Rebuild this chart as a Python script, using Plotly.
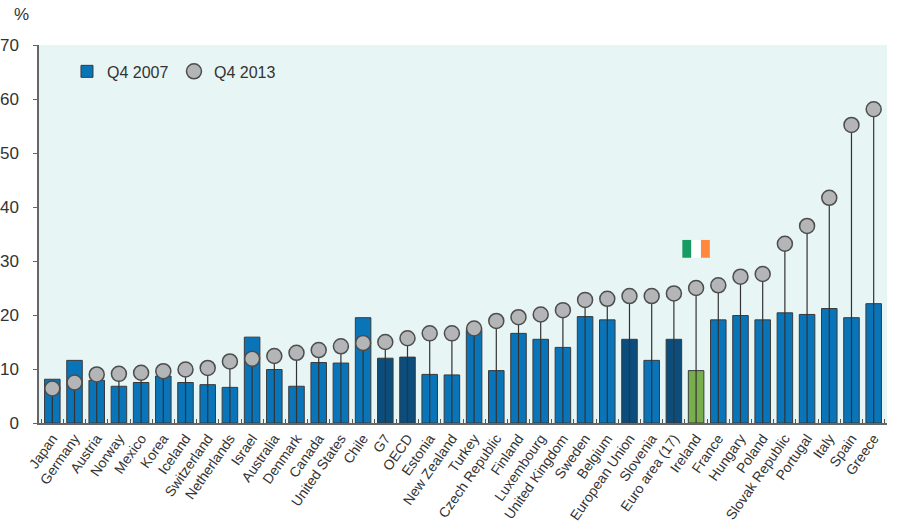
import plotly.graph_objects as go

# Long-term unemployment share, Q4 2007 vs Q4 2013 (%)
countries = ['Japan', 'Germany', 'Austria', 'Norway', 'Mexico', 'Korea', 'Iceland',
             'Switzerland', 'Netherlands', 'Israel', 'Australia', 'Denmark', 'Canada',
             'United States', 'Chile', 'G7', 'OECD', 'Estonia', 'New Zealand', 'Turkey',
             'Czech Republic', 'Finland', 'Luxembourg', 'United Kingdom', 'Sweden',
             'Belgium', 'European Union', 'Slovenia', 'Euro area (17)', 'Ireland',
             'France', 'Hungary', 'Poland', 'Slovak Republic', 'Portugal', 'Italy',
             'Spain', 'Greece']
q4_2007 = [8.1, 11.6, 7.9, 6.8, 7.5, 8.7, 7.5, 7.1, 6.6, 15.9, 9.9, 6.8, 11.2, 11.1,
           19.5, 12.0, 12.2, 9.0, 8.9, 17.3, 9.7, 16.6, 15.5, 14.0, 19.7, 19.1, 15.5,
           11.6, 15.5, 9.7, 19.1, 19.9, 19.1, 20.4, 20.1, 21.2, 19.5, 22.1]
q4_2013 = [6.4, 7.5, 9.0, 9.1, 9.3, 9.6, 9.9, 10.2, 11.4, 11.9, 12.4, 13.0, 13.5, 14.2,
           14.8, 15.0, 15.7, 16.6, 16.6, 17.5, 18.9, 19.6, 20.1, 20.9, 22.8, 23.0, 23.5,
           23.5, 24.0, 25.0, 25.5, 27.1, 27.6, 33.2, 36.5, 41.7, 55.2, 58.1]
aggregates = ['G7', 'OECD', 'European Union', 'Euro area (17)']
highlight = 'Ireland'

BLUE = '#0a74b8'
DARK = '#0b4d7c'
GREEN = '#79ae4f'

bar_colors = []
for c in countries:
    if c == highlight:
        bar_colors.append(GREEN)
    elif c in aggregates:
        bar_colors.append(DARK)
    else:
        bar_colors.append(BLUE)

fig = go.Figure()

fig.add_trace(go.Bar(
    x=countries, y=q4_2007, name='Q4 2007',
    marker=dict(color=bar_colors, line=dict(color='#3a3a3a', width=1)),
    width=0.7,
))

# stems from the base up to the 2013 marker
stem_x, stem_y = [], []
for c, v in zip(countries, q4_2013):
    stem_x += [c, c, None]
    stem_y += [0, v, None]
fig.add_trace(go.Scatter(
    x=stem_x, y=stem_y, mode='lines', showlegend=False, hoverinfo='skip',
    line=dict(color='#333333', width=1.2),
))

fig.add_trace(go.Scatter(
    x=countries, y=q4_2013, name='Q4 2013', mode='markers',
    marker=dict(color='#b3b5b6', size=15, line=dict(color='#4d4d4d', width=1.5)),
))

# small Irish flag above Ireland
ie = countries.index(highlight)
for i, col in enumerate(['#169b62', '#ffffff', '#ff883e']):
    fig.add_shape(type='rect', xref='x', yref='y',
                  x0=ie - 0.62 + i * 0.42, x1=ie - 0.62 + (i + 1) * 0.42 - 0.02,
                  y0=30.6, y1=33.9, fillcolor=col, line=dict(width=0), layer='above')

fig.add_annotation(text='%', xref='paper', yref='paper', x=-0.032, y=1.0,
                   yshift=42, xanchor='left', yanchor='top', showarrow=False,
                   font=dict(size=17, color='#333333'))

fig.update_layout(
    width=898, height=527,
    margin=dict(l=39, r=11, t=45, b=104, autoexpand=False),
    paper_bgcolor='white', plot_bgcolor='#e8f5f5',
    font=dict(family='Liberation Sans, Arial, sans-serif', color='#333333'),
    bargap=0.3,
    legend=dict(orientation='h', x=0.033, y=0.975, xanchor='left', yanchor='top',
                bgcolor='rgba(0,0,0,0)', font=dict(size=16), itemwidth=30,
                entrywidth=62, entrywidthmode='pixels'),
)
fig.update_xaxes(
    tickangle=-55, tickfont=dict(size=14, color='#333333'),
    showgrid=False, showline=True, linecolor='#666666', linewidth=1.5,
    ticks='inside', ticklen=4, tickcolor='#555555', tickson='boundaries',
    range=[-0.6, len(countries) - 0.4], automargin=False,
)
fig.update_yaxes(
    range=[0, 70], dtick=10, showgrid=False, zeroline=False,
    showline=True, linecolor='#666666', linewidth=1.5,
    ticks='outside', ticklen=4, tickcolor='#666666', ticklabelstandoff=11,
    tickfont=dict(size=17, color='#333333'), automargin=False,
)

# drop the default page margin so the figure sits at the window's corner
fig.write_html('out.html', config={'displayModeBar': False},
               post_script="document.body.style.margin='0';")
